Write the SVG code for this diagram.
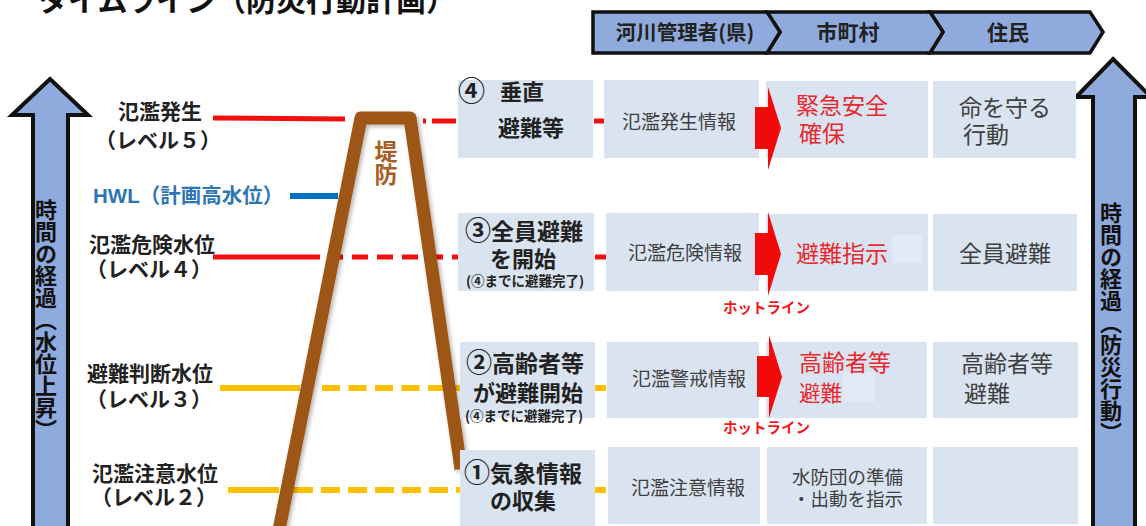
<svg xmlns="http://www.w3.org/2000/svg" width="1146" height="526" viewBox="0 0 1146 526">
<defs>
<style>
text{font-family:"Noto Sans CJK JP","Noto Sans",sans-serif}
.b{font-weight:bold}
.box{fill:#dae3f0}
.patch{fill:#e2eaf8}
.dark{fill:#222}
.gray{fill:#3f3f3f}
.red{fill:#e8292f}
.hdr{fill:#8faadc;stroke:#111;stroke-width:3.5;stroke-linejoin:miter}
.arr{fill:#8faadc}
.arrs{fill:none;stroke:#111;stroke-width:4}
.rl{stroke:#f01010;stroke-width:5;fill:none}
.ol{stroke:#ffc000;stroke-width:6;fill:none}
.vt{writing-mode:vertical-rl;font-weight:bold;fill:#111;font-size:22px}
.hot{font-size:14.5px;font-weight:bold;fill:#f01818}
</style>
<filter id="sh" x="-20%" y="-20%" width="140%" height="140%">
<feDropShadow dx="2" dy="2" stdDeviation="2" flood-color="#000" flood-opacity="0.3"/>
</filter>
</defs>
<rect width="1146" height="526" fill="#fff"/>

<g id="title">
<text x="38" y="11" class="b" font-size="30" fill="#111">タイムライン（防災行動計画）</text>
</g>

<g id="header">
<polygon class="hdr" points="930,12 1090,12 1103,32 1090,53 930,53 943,32"/>
<polygon class="hdr" points="767,12 930,12 943,32 930,53 767,53 780,32"/>
<polygon class="hdr" points="593,12 767,12 780,32 767,53 593,53"/>
<text x="685" y="40" class="b dark" font-size="20.5" text-anchor="middle">河川管理者(県)</text>
<text x="848" y="40" class="b dark" font-size="21" text-anchor="middle">市町村</text>
<text x="1008" y="40" class="b dark" font-size="21" text-anchor="middle">住民</text>
</g>

<g id="arrow-left">
<polygon class="arr" points="50,79 88,115 68,115 68,530 33,530 33,115 12,115"/>
<text x="46" y="199" class="vt">時間の経過（水位上昇）</text>
<polygon class="arrs" points="50,79 88,115 68,115 68,530 33,530 33,115 12,115"/>
</g>

<g id="arrow-right">
<polygon class="arr" points="1113,59 1151,97 1135,97 1135,530 1093,530 1093,97 1076,97"/>
<text x="1111" y="202" class="vt">時間の経過（防災行動）</text>
<polygon class="arrs" points="1113,59 1151,97 1135,97 1135,530 1093,530 1093,97 1076,97"/>
</g>

<g id="level-labels">
<text x="160" y="119" class="b dark" font-size="21" text-anchor="middle">氾濫発生</text>
<text x="158" y="148" class="b dark" font-size="21" text-anchor="middle">（レベル５）</text>
<text x="93" y="203" class="b" font-size="20.5" fill="#2e75b6"><tspan font-family="Liberation Sans, sans-serif">HWL</tspan>（計画高水位）</text>
<text x="152" y="252" class="b dark" font-size="21" text-anchor="middle">氾濫危険水位</text>
<text x="149" y="277" class="b dark" font-size="21" text-anchor="middle">（レベル４）</text>
<text x="150" y="381" class="b dark" font-size="21" text-anchor="middle">避難判断水位</text>
<text x="149" y="407" class="b dark" font-size="21" text-anchor="middle">（レベル３）</text>
<text x="155" y="481" class="b dark" font-size="21" text-anchor="middle">氾濫注意水位</text>
<text x="154" y="505" class="b dark" font-size="21" text-anchor="middle">（レベル２）</text>
</g>

<g id="connectors">
<line class="rl" x1="213" y1="118" x2="345" y2="119"/>
<line class="rl" x1="423" y1="121" x2="426" y2="121" stroke-width="4"/>
<line class="rl" x1="432" y1="121" x2="456" y2="121"/>
<line class="rl" x1="594" y1="121" x2="605" y2="121"/>
<line x1="290" y1="196" x2="338" y2="196" stroke="#0070c0" stroke-width="6"/>
<line class="rl" x1="213" y1="257" x2="320" y2="257"/>
<line class="rl" x1="327" y1="257" x2="458" y2="257" stroke-dasharray="16 9"/>
<line class="rl" x1="595" y1="257" x2="606" y2="257"/>
<line class="ol" x1="220" y1="388" x2="300" y2="388"/>
<line class="ol" x1="322" y1="388" x2="460" y2="388" stroke-dasharray="18 8.5"/>
<line class="ol" x1="595" y1="388" x2="606" y2="388"/>
<line class="ol" x1="228" y1="490" x2="279" y2="490"/>
<line class="ol" x1="287" y1="490" x2="313" y2="490"/>
<line class="ol" x1="321" y1="490" x2="460" y2="490" stroke-dasharray="19 8"/>
<line class="ol" x1="595" y1="490" x2="606" y2="490"/>
</g>

<g id="levee">
<polyline points="279,530 361,118 410,118 461,469" fill="none" stroke="#9e5718" stroke-width="13" stroke-linejoin="round" filter="url(#sh)"/>
<text x="386" y="140" style="writing-mode:vertical-rl" class="b" font-size="23" fill="#a85e22">堤防</text>
</g>

<g id="node-4">
<rect class="box" x="458" y="80" width="135" height="78"/>
<text x="458" y="101" class="b dark" font-size="27">④</text>
<text x="500" y="100" class="b dark" font-size="22">垂直</text>
<text x="498" y="136" class="b dark" font-size="22">避難等</text>
</g>
<g id="node-3">
<rect class="box" x="458" y="213" width="136" height="78"/>
<text x="524" y="240" class="b dark" font-size="23" text-anchor="middle"><tspan font-size="26">③</tspan>全員避難</text>
<text x="523" y="267" class="b dark" font-size="22" text-anchor="middle">を開始</text>
<text x="525" y="286" class="b dark" font-size="13.5" text-anchor="middle">(④までに避難完了)</text>
</g>
<g id="node-2">
<rect class="box" x="460" y="342" width="135" height="76"/>
<text x="525" y="372" class="b dark" font-size="23" text-anchor="middle"><tspan font-size="26">②</tspan>高齢者等</text>
<text x="528" y="401" class="b dark" font-size="22" text-anchor="middle">が避難開始</text>
<text x="524" y="421" class="b dark" font-size="13.5" text-anchor="middle">(④までに避難完了)</text>
</g>
<g id="node-1">
<rect class="box" x="460" y="450" width="135" height="76"/>
<text x="523" y="482" class="b dark" font-size="23" text-anchor="middle"><tspan font-size="26">①</tspan>気象情報</text>
<text x="523" y="509" class="b dark" font-size="22" text-anchor="middle">の収集</text>
</g>

<g id="river-4"><rect class="box" x="604" y="80" width="155" height="78"/><text x="679" y="129" class="gray" font-size="19" text-anchor="middle">氾濫発生情報</text></g>
<g id="river-3"><rect class="box" x="606" y="213" width="153" height="78"/><text x="685" y="260" class="gray" font-size="19" text-anchor="middle">氾濫危険情報</text></g>
<g id="river-2"><rect class="box" x="607" y="342" width="152" height="76"/><text x="689" y="386" class="gray" font-size="19" text-anchor="middle">氾濫警戒情報</text></g>
<g id="river-1"><rect class="box" x="608" y="447" width="152" height="77"/><text x="688" y="495" class="gray" font-size="19" text-anchor="middle">氾濫注意情報</text></g>

<g id="city-4"><rect class="box" x="766" y="81" width="162" height="77"/><text x="796" y="114" class="red" font-size="23">緊急安全</text><text x="799" y="142" class="red" font-size="23">確保</text></g>
<g id="city-3"><rect class="box" x="766" y="214" width="162" height="77"/><rect class="patch" x="892" y="235" width="30" height="28"/><text x="796" y="262" class="red" font-size="23">避難指示</text></g>
<g id="city-2"><rect class="box" x="766" y="342" width="161" height="76"/><rect class="patch" x="843" y="372" width="32" height="30"/><text x="799" y="371" class="red" font-size="23">高齢者等</text><text x="799" y="401" class="red" font-size="21.5">避難</text></g>
<g id="city-1"><rect class="box" x="767" y="447" width="160" height="77"/><text x="792" y="484" class="gray" font-size="18.5">水防団の準備</text><text x="792" y="506" class="gray" font-size="18.5">・出動を指示</text></g>

<g id="resident-4"><rect class="box" x="933" y="81" width="143" height="77"/><text x="959" y="116" class="gray" font-size="23">命を守る</text><text x="963" y="143" class="gray" font-size="23">行動</text></g>
<g id="resident-3"><rect class="box" x="933" y="214" width="144" height="77"/><text x="959" y="262" class="gray" font-size="23">全員避難</text></g>
<g id="resident-2"><rect class="box" x="933" y="342" width="145" height="76"/><text x="961" y="372" class="gray" font-size="23">高齢者等</text><text x="964" y="402" class="gray" font-size="23">避難</text></g>
<g id="resident-1"><rect class="box" x="933" y="447" width="145" height="77"/></g>

<g id="hotline-arrows">
<polygon points="755,107 768,107 768,87 781,128 768,170 768,149 755,149" fill="#f20a0a"/>
<polygon points="755,233 768,233 768,212 781,254 768,296 768,275 755,275" fill="#f20a0a"/>
<polygon points="757,356 769,356 769,335 782,377 769,418 769,397 757,397" fill="#f20a0a"/>
<text x="723" y="313" class="hot">ホットライン</text>
<text x="723" y="433" class="hot">ホットライン</text>
</g>
</svg>
